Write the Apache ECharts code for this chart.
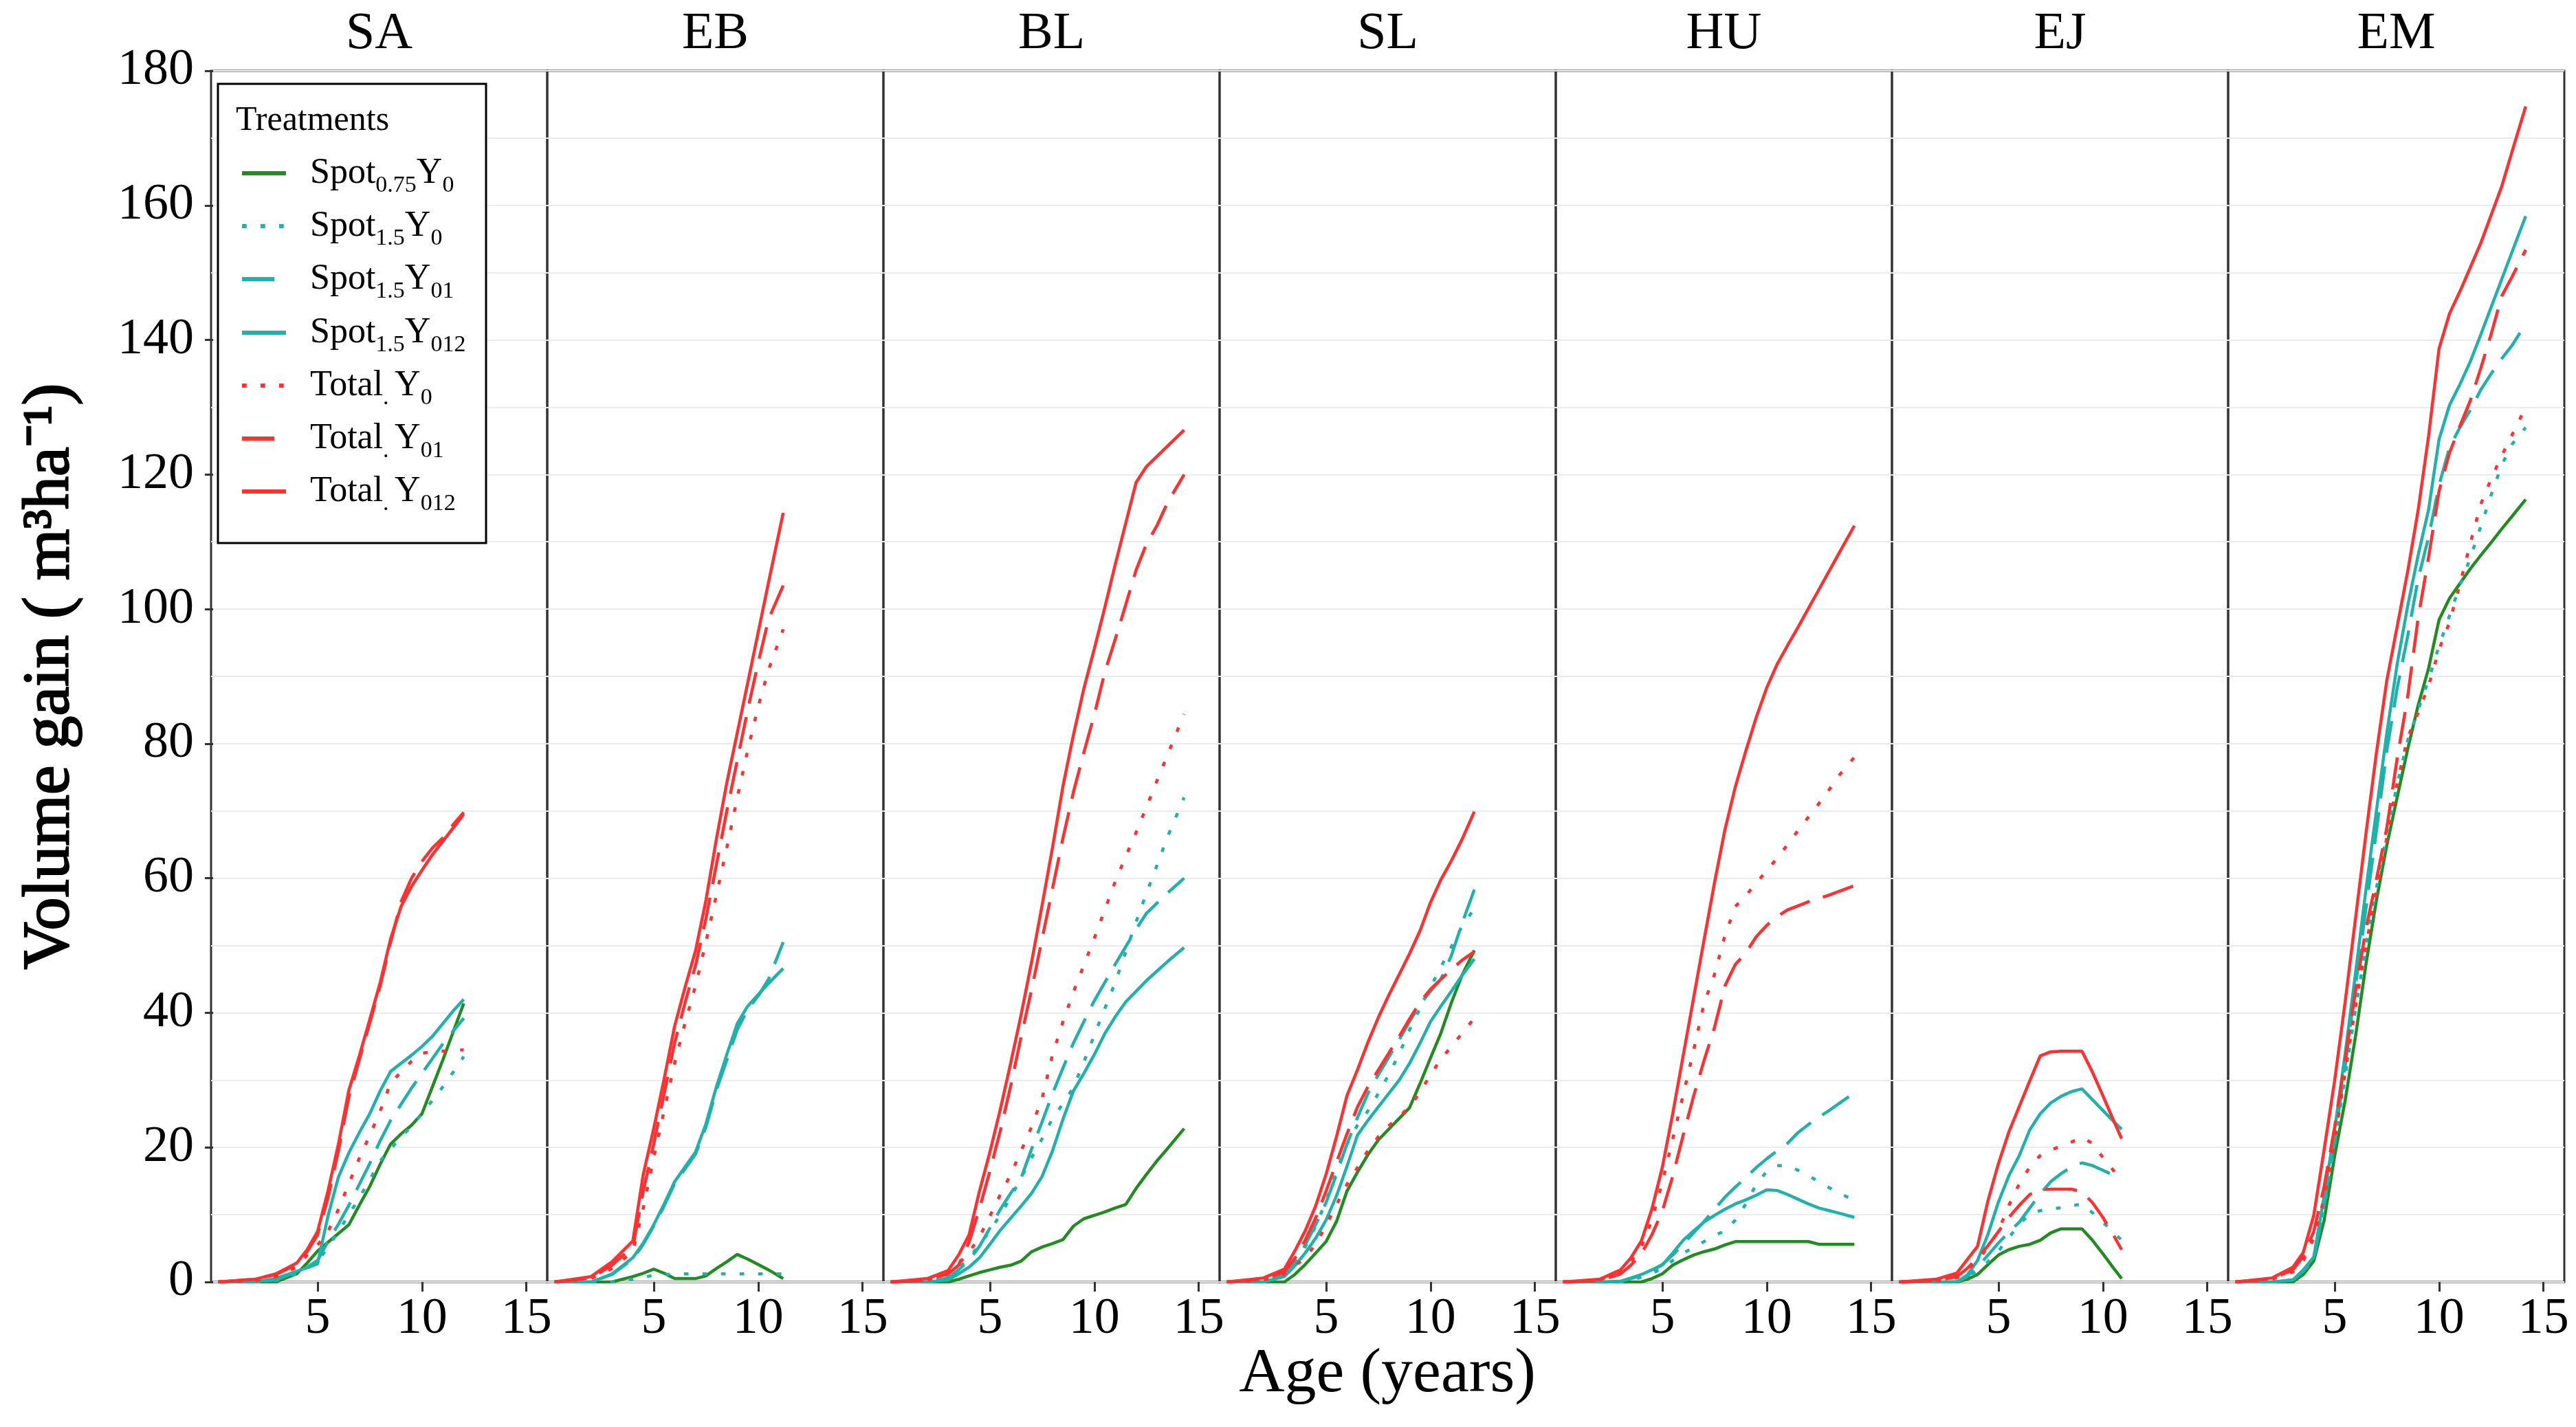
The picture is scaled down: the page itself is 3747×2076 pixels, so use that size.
<!DOCTYPE html>
<html><head><meta charset="utf-8">
<script src="https://cdn.jsdelivr.net/npm/echarts@6/dist/echarts.min.js"></script>
<style>html,body{margin:0;padding:0;background:#fff}#c{width:3747px;height:2076px}</style>
</head><body><div id="c"></div>
<script>
// ---------- categories / ticks ----------
const sites = ['SA', 'EB', 'BL', 'SL', 'HU', 'EJ', 'EM'];
const treatments = ['Spot0.75Y0', 'Spot1.5Y0', 'Spot1.5Y01', 'Spot1.5Y012', 'Total.Y0', 'Total.Y01', 'Total.Y012'];
const xTickValues = [5, 10, 15];
const yTickMin = 0, yTickMax = 180, yTickStep = 20;

// ---------- data (age in years, volume gain m3/ha) ----------
const ageSA = [0.25, 2, 3, 4, 4.5, 5, 5.5, 6, 6.5, 7, 7.5, 8, 8.5, 9, 9.5, 10, 10.5, 11, 11.5, 12];
const SA_S075Y0  = [0, 0, 0, 1.2, 2.8, 4.6, 5.9, 7.2, 8.5, 11.4, 14.2, 17.5, 20.5, 22, 23.3, 25, 29, 33, 37.2, 41.4];
const SA_S15Y0   = [0, 0, 0.2, 1.2, 2, 3, 5.2, 7.5, 10, 12.5, 15.2, 18, 19.8, 21.5, 23.2, 25, 27, 29, 31.2, 33.5];
const SA_S15Y01  = [0, 0, 0.3, 1.5, 2.2, 3.2, 6, 8.6, 11.4, 14.5, 17.6, 21, 24, 26.4, 28.8, 31, 33.2, 35.4, 37.3, 39.2];
const SA_S15Y012 = [0, 0, 0.5, 1.6, 2.1, 2.7, 9.8, 15.6, 19.2, 22.2, 25, 28.4, 31.3, 32.5, 33.7, 35, 36.5, 38.4, 40.3, 42];
const SA_TY0     = [0, 0.2, 0.8, 2.2, 4, 5.5, 7.5, 10.8, 14.6, 18.4, 21.8, 25.4, 29.6, 31.2, 32.8, 34, 34.2, 34.3, 34.4, 34.5];
const SA_TY01    = [0, 0.4, 1.1, 2.6, 4.5, 7, 12.5, 19.5, 27.5, 33, 38.5, 44, 50.5, 56.5, 60, 62.5, 64.5, 66, 68, 69.8];
const SA_TY012   = [0, 0.4, 1.2, 2.8, 4.8, 7.5, 13.5, 20.5, 28.5, 33.6, 39, 44.5, 51, 55.8, 58.8, 61.2, 63.5, 65.5, 67.5, 69.5];

const ageEB = [0.25, 2, 3, 4, 4.5, 5, 5.5, 6, 6.5, 7, 7.5, 8, 8.5, 9, 9.5, 10, 10.5, 11.2];
const EB_S075Y0  = [0, 0, 0, 0.8, 1.3, 1.9, 1.3, 0.5, 0.5, 0.5, 0.9, 2.0, 3.0, 4.1, 3.4, 2.6, 1.8, 0.5];
const EB_S15Y0   = [0, 0, 0, 0.4, 0.7, 1.0, 1.1, 1.2, 1.2, 1.2, 1.2, 1.2, 1.2, 1.2, 1.2, 1.2, 1.2, 1.2];
const EB_S15Y01  = [0, 0, 1.1, 3.4, 5.6, 8.3, 11.3, 14.6, 16.8, 19, 23, 28.5, 33, 37.5, 40.5, 42.5, 45, 50.5];
const EB_S15Y012 = [0, 0, 1.2, 3.6, 5.8, 8.5, 11.6, 14.9, 17.1, 19.3, 23.5, 29, 33.8, 38.4, 41, 42.7, 44.4, 46.6];
const EB_TY0     = [0, 0.5, 2, 4.5, 11, 18.5, 25.5, 32.5, 38.5, 44, 50.5, 57.5, 64.5, 72, 79, 85.5, 91, 97];
const EB_TY01    = [0, 0.6, 2.5, 5.2, 13.5, 20.5, 28, 35.5, 41.5, 47, 54, 62, 70, 77.5, 85, 92, 98.5, 103.5];
const EB_TY012   = [0, 0.8, 3, 6.1, 16, 22.8, 30.2, 38, 43.8, 49.2, 56.7, 65.8, 74.2, 81.6, 89, 96.5, 104, 114.3];

const ageBL = [0.25, 2, 3, 3.5, 4, 4.5, 5, 5.5, 6, 6.5, 7, 7.5, 8, 8.5, 9, 9.5, 10, 10.5, 11, 11.5, 12, 12.5, 13, 13.5, 14.3];
const BL_S075Y0  = [0, 0, 0, 0.4, 0.9, 1.4, 1.8, 2.2, 2.5, 3.1, 4.5, 5.2, 5.7, 6.3, 8.3, 9.4, 9.9, 10.4, 11, 11.5, 13.9, 16, 18, 19.8, 22.8];
const BL_S15Y0   = [0, 0, 0.8, 2, 3.6, 5.5, 7.6, 10, 12.6, 15.5, 18.5, 21.3, 24.3, 26.5, 28.9, 32.7, 36.7, 40.6, 44.5, 49, 53.5, 57.8, 61.9, 66.1, 72];
const BL_S15Y01  = [0, 0, 0.6, 1.8, 3.2, 5.3, 8, 10.8, 13.2, 15.5, 19.8, 23.8, 28, 31.8, 35.5, 38.7, 41.8, 44.5, 47.2, 49.8, 52.4, 54.8, 56.3, 57.8, 60];
const BL_S15Y012 = [0, 0, 0.3, 1.2, 2.2, 3.6, 5.6, 7.7, 9.5, 11.3, 13.2, 15.7, 19.5, 24.2, 28.4, 31, 33.8, 36.9, 39.4, 41.6, 43.2, 44.8, 46.2, 47.6, 49.7];
const BL_TY0     = [0, 0.3, 1.5, 2.7, 4.4, 6.7, 9.8, 13, 16, 19.5, 23.1, 27.3, 33.8, 38.7, 43.1, 47.1, 51.1, 55.3, 59.5, 63.2, 66.8, 70.6, 74.5, 78.3, 84.4];
const BL_TY01    = [0, 0.3, 1.2, 2.5, 5.9, 10.9, 16.5, 22.5, 29.2, 36.5, 43.5, 51, 58.5, 66, 72.8, 78.7, 84.3, 90.6, 95.5, 100.6, 105.8, 109.7, 112.4, 115.8, 120];
const BL_TY012   = [0, 0.5, 1.7, 4, 7, 13.5, 19.3, 25.7, 32.6, 39.8, 47.6, 56, 64.6, 73.7, 81.3, 88.2, 94.1, 100.2, 106.6, 112.7, 118.8, 121.2, 122.7, 124.2, 126.6];

const ageSL = [0.25, 2, 3, 3.5, 4, 4.5, 5, 5.5, 6, 6.5, 7, 7.5, 8, 8.5, 9, 9.5, 10, 10.5, 11, 11.5, 12.1];
const SL_S075Y0  = [0, 0, 0, 1.1, 2.6, 4.3, 6, 9, 13.5, 16.3, 18.9, 21.1, 22.7, 24.3, 25.9, 29.5, 33.3, 37, 41.5, 45.5, 49.3];
const SL_S15Y0   = [0, 0, 0.9, 2.8, 5.2, 8.3, 12, 16.5, 20.5, 23.3, 25.4, 28, 30.8, 33.9, 37.5, 40.7, 43.8, 46.8, 49.8, 52.8, 55.5];
const SL_S15Y01  = [0, 0, 1, 3, 5.5, 8.5, 11.8, 16, 20.5, 24.4, 28, 30.8, 33.4, 36, 38.7, 41.3, 43.2, 45, 48.5, 53.2, 58.3];
const SL_S15Y012 = [0, 0, 0.8, 2.4, 4.3, 6.5, 9.2, 12.8, 17.2, 21.8, 24, 26, 28, 30, 32.5, 35.5, 38.7, 41, 43.2, 45.5, 48];
const SL_TY0     = [0, 0.3, 1.2, 2.4, 3.6, 5.6, 8.4, 11.5, 14.5, 17, 19.5, 21.6, 23.2, 24.6, 26, 28.2, 30.8, 33.1, 35, 36.9, 39.2];
const SL_TY01    = [0, 0.4, 1.5, 3.5, 6.2, 9.5, 13.5, 17.8, 22, 26, 29, 31.5, 34, 36.5, 39.1, 41.6, 43.5, 45, 46.4, 47.8, 49.1];
const SL_TY012   = [0, 0.6, 1.9, 4.6, 7.6, 11.3, 16, 21.6, 27.7, 31.5, 35.6, 39.3, 42.6, 45.7, 48.8, 52.2, 56.4, 59.8, 62.6, 65.7, 69.9];

const ageHU = [0.25, 2, 3, 3.5, 4, 4.5, 5, 5.5, 6, 6.5, 7, 7.5, 8, 8.5, 9, 9.5, 10, 10.5, 11, 11.5, 12, 12.5, 13, 13.5, 14.2];
const HU_S075Y0  = [0, 0, 0, 0, 0, 0.5, 1.2, 2.5, 3.3, 4, 4.5, 4.9, 5.5, 6, 6, 6, 6, 6, 6, 6, 6, 5.6, 5.6, 5.6, 5.6];
const HU_S15Y0   = [0, 0, 0, 0.3, 0.7, 1.3, 2, 3.2, 4.3, 5.1, 6, 6.9, 7.6, 9.2, 11.6, 14.5, 16.4, 17.3, 17.3, 16.6, 15.8, 14.9, 14, 13.2, 12.1];
const HU_S15Y01  = [0, 0, 0.1, 0.5, 1, 1.7, 2.6, 4, 5.6, 7.3, 9, 10.8, 12.6, 14.1, 15.5, 17, 18.3, 19.5, 20.6, 22.2, 23.4, 24.5, 25.5, 26.6, 28.1];
const HU_S15Y012 = [0, 0, 0.1, 0.6, 1.1, 1.8, 2.5, 4.3, 6.2, 7.6, 8.9, 9.9, 10.8, 11.6, 12.2, 12.9, 13.7, 13.6, 13, 12.3, 11.6, 11, 10.6, 10.2, 9.6];
const HU_TY0     = [0, 0.3, 1.5, 3, 5.2, 9.2, 14.8, 21.2, 27.8, 34.4, 41.4, 45.7, 51.5, 55.8, 57.4, 59.3, 61.1, 63, 65, 67.1, 69.1, 71.1, 73.2, 75.4, 78];
const HU_TY01    = [0, 0.2, 1.2, 2.5, 4.2, 7, 10.5, 15.7, 21.8, 27.6, 32.9, 37.8, 44, 47.2, 48.9, 51.3, 53, 54.3, 55.3, 55.9, 56.5, 57, 57.5, 58.1, 58.9];
const HU_TY012   = [0, 0.4, 1.8, 3.6, 6.1, 10.8, 17, 25, 33.6, 42.2, 50.8, 59.3, 67.2, 73.6, 78.9, 83.9, 88.3, 91.8, 94.6, 97.3, 100.1, 102.9, 105.7, 108.5, 112.4];

const ageEJ = [0.25, 2, 3, 3.5, 4, 4.5, 5, 5.5, 6, 6.5, 7, 7.5, 8, 8.5, 9, 9.5, 10, 10.5, 10.9];
const EJ_S075Y0  = [0, 0, 0, 0.4, 1.1, 2.6, 4, 4.8, 5.3, 5.6, 6.2, 7.3, 7.9, 7.9, 7.9, 6.2, 4.2, 2.1, 0.5];
const EJ_S15Y0   = [0, 0, 0, 0.6, 1.6, 3, 4.6, 6.6, 8.6, 10.1, 10.6, 10.9, 11, 11.3, 11.6, 10.3, 8.9, 7.4, 6.2];
const EJ_S15Y01  = [0, 0, 0, 0.8, 2.2, 4, 5.8, 7.4, 8.9, 11, 13.1, 14.9, 16.1, 17.1, 17.7, 17.3, 16.6, 15.9, 15.3];
const EJ_S15Y012 = [0, 0, 0, 1, 3.2, 7.1, 11.9, 15.8, 18.8, 22.6, 25, 26.6, 27.6, 28.3, 28.7, 27.1, 25.5, 23.9, 22.7];
const EJ_TY0     = [0, 0.2, 0.6, 1.8, 3.2, 5.2, 7.6, 11.4, 14.6, 17.1, 18.8, 19.6, 20.2, 20.8, 21.5, 20.6, 18.5, 16.6, 15];
const EJ_TY01    = [0, 0.2, 0.8, 2, 3.6, 5.4, 7.5, 9.6, 11.4, 13, 13.7, 13.8, 13.8, 13.8, 13.4, 11.8, 9.6, 7, 4.8];
const EJ_TY012   = [0, 0.4, 1.3, 3.3, 5.3, 12.1, 17.6, 22.3, 26.1, 29.9, 33.6, 34.2, 34.3, 34.3, 34.3, 31.2, 27.7, 24.1, 21.3];

const ageEM = [0.25, 2, 3, 3.5, 4, 4.5, 5, 5.5, 6, 6.5, 7, 7.5, 8, 8.5, 9, 9.5, 10, 10.5, 11, 11.5, 12, 12.5, 13, 13.5, 14.15];
const EM_S075Y0  = [0, 0, 0, 1.1, 3.1, 9.2, 18.7, 26.9, 36.5, 47.2, 56.7, 64.9, 72.1, 79.2, 85.7, 91.2, 98.4, 101.6, 103.8, 106, 108, 109.9, 111.9, 113.8, 116.3];
const EM_S15Y0   = [0, 0, 0.3, 1.5, 3.4, 11, 20.5, 30.5, 40.5, 50, 58.5, 66.5, 74, 80.5, 85, 89.5, 94.5, 99, 103.5, 107.6, 112.3, 117, 121.4, 124.5, 127];
const EM_S15Y01  = [0, 0, 0.3, 1.6, 3.4, 11.5, 21, 32, 44, 55.5, 67, 79, 88.3, 96, 104.5, 110.7, 118.4, 124, 127, 129.6, 132.6, 135, 137.2, 139.2, 142.4];
const EM_S15Y012 = [0, 0, 0.3, 1.8, 3.7, 12.8, 22.6, 33.8, 45.9, 58.3, 70, 81.6, 91.9, 100.5, 108, 114.8, 125.2, 130.3, 133.4, 136.8, 140.8, 144.9, 149, 153.1, 158.4];
const EM_TY0     = [0, 0.4, 1.5, 3.2, 6.5, 12.5, 21, 31, 41, 50, 58, 66, 74.2, 80.9, 84.6, 88.6, 94, 98, 103.7, 109.8, 115.6, 119.4, 122.8, 125.9, 130];
const EM_TY01    = [0, 0.5, 1.8, 3.8, 7.5, 14.2, 23, 33, 43.2, 52.5, 59.8, 67.5, 77.9, 87, 98.7, 107.7, 117.5, 123.2, 127.2, 131, 135.8, 140.9, 146.5, 149.4, 153.4];
const EM_TY012   = [0, 0.6, 2.2, 4.4, 9.9, 19.7, 29.9, 41.5, 54, 66.6, 78.6, 89.4, 97.5, 105.6, 114.7, 125.7, 138.7, 143.9, 147.2, 150.8, 154.4, 158.6, 162.8, 168, 174.7];

// ---------- assemble ----------
const siteAges = [ageSA, ageEB, ageBL, ageSL, ageHU, ageEJ, ageEM];
const siteVals = [
  [SA_S075Y0, SA_S15Y0, SA_S15Y01, SA_S15Y012, SA_TY0, SA_TY01, SA_TY012],
  [EB_S075Y0, EB_S15Y0, EB_S15Y01, EB_S15Y012, EB_TY0, EB_TY01, EB_TY012],
  [BL_S075Y0, BL_S15Y0, BL_S15Y01, BL_S15Y012, BL_TY0, BL_TY01, BL_TY012],
  [SL_S075Y0, SL_S15Y0, SL_S15Y01, SL_S15Y012, SL_TY0, SL_TY01, SL_TY012],
  [HU_S075Y0, HU_S15Y0, HU_S15Y01, HU_S15Y012, HU_TY0, HU_TY01, HU_TY012],
  [EJ_S075Y0, EJ_S15Y0, EJ_S15Y01, EJ_S15Y012, EJ_TY0, EJ_TY01, EJ_TY012],
  [EM_S075Y0, EM_S15Y0, EM_S15Y01, EM_S15Y012, EM_TY0, EM_TY01, EM_TY012]
];

const GREEN = '#228B22', TEAL = '#20B2AA', RED = '#FF3030';
const DOT = [6.75, 20.25], LONGDASH = [47, 20];
const tStyle = [
  {color: GREEN, type: 'solid'},
  {color: TEAL, type: DOT},
  {color: TEAL, type: LONGDASH},
  {color: TEAL, type: 'solid'},
  {color: RED, type: DOT},
  {color: RED, type: LONGDASH},
  {color: RED, type: 'solid'}
];
const legendLabels = [
  '{g|}{m|Spot}{s|0.75}{m|Y}{s|0}',
  '{g|}{m|Spot}{s|1.5}{m|Y}{s|0}',
  '{g|}{m|Spot}{s|1.5}{m|Y}{s|01}',
  '{g|}{m|Spot}{s|1.5}{m|Y}{s|012}',
  '{g|}{m|Total}{s|. }{m|Y}{s|0}',
  '{g|}{m|Total}{s|. }{m|Y}{s|01}',
  '{g|}{m|Total}{s|. }{m|Y}{s|012}'
];

const FONT = 'Liberation Serif';
const L0 = 307, PW = 489, TOP = 103, PH = 1762;
const AXC = '#333333';

const grids = [], xAxes = [], yAxes = [], series = [], graphics = [], legends = [];
sites.forEach((s, i) => {
  grids.push({left: L0 + PW * i, top: TOP, width: PW, height: PH, show: true,
    borderColor: AXC, borderWidth: 3, backgroundColor: 'transparent', containLabel: false});
  xAxes.push({type: 'value', gridIndex: i, min: -0.1, max: 16,
    axisLine: {show: false},
    axisTick: {show: true, length: 14, customValues: xTickValues, lineStyle: {color: AXC, width: 3}},
    axisLabel: {show: true, customValues: xTickValues, margin: 18, fontFamily: FONT, fontSize: 74, color: '#000'},
    splitLine: {show: false}});
  const yAx = {type: 'value', gridIndex: i, min: yTickMin, max: yTickMax, interval: yTickStep,
    axisLine: {show: false},
    axisTick: {show: i === 0, length: 12, lineStyle: {color: AXC, width: 3}},
    axisLabel: {show: i === 0, margin: 25, fontFamily: FONT, fontSize: 74, color: '#000'},
    splitLine: {show: true, lineStyle: {color: '#ebebeb', width: 2}},
    minorTick: {show: false, splitNumber: 2},
    minorSplitLine: {show: true, lineStyle: {color: '#ebebeb', width: 2}}};
  if (i === 0) {
    yAx.name = 'Volume gain ( m\u00B3ha\u207B\u00B9)';
    yAx.nameLocation = 'middle';
    yAx.nameRotate = 90;
    yAx.nameGap = 185;
    yAx.nameTextStyle = {fontFamily: 'Liberation Serif, serif', fontSize: 96, fontWeight: 'normal',
      color: '#000', textBorderColor: '#000', textBorderWidth: 2.2};
  }
  yAxes.push(yAx);
  const ages = siteAges[i];
  siteVals[i].forEach((vals, j) => {
    series.push({type: 'line', name: treatments[j], xAxisIndex: i, yAxisIndex: i,
      data: ages.map((a, k) => [a, vals[k]]),
      symbol: 'none', showSymbol: false, silent: true, animation: false, z: 2 + j,
      color: tStyle[j].color,
      lineStyle: {color: tStyle[j].color, width: 4.5, type: tStyle[j].type, cap: 'butt'}});
  });
  graphics.push({type: 'text', x: L0 + PW * i + PW / 2, y: 50, z: 10,
    style: {text: s, fontFamily: FONT, fontSize: 76, fill: '#000',
      align: 'center', verticalAlign: 'middle', textAlign: 'center', textVerticalAlign: 'middle'}});
});

const legendCenters = [261, 338, 415, 493, 570, 647, 724];
treatments.forEach((t, j) => {
  legends.push({data: [t], orient: 'vertical', left: 349, top: legendCenters[j] - 35, padding: 0,
    itemWidth: 64, itemHeight: 14, selectedMode: false, z: 20,
    lineStyle: {width: 6},
    itemStyle: {opacity: 0, borderWidth: 0},
    formatter: () => legendLabels[j],
    textStyle: {fontFamily: FONT, color: '#000', fontSize: 52,
      rich: {
        g: {width: 30},
        m: {fontFamily: FONT, fontSize: 52, lineHeight: 70, color: '#000'},
        s: {fontFamily: FONT, fontSize: 34, lineHeight: 34, color: '#000', verticalAlign: 'bottom'}
      }}});
});

graphics.push({type: 'rect', z: 15, shape: {x: 317, y: 122, width: 390, height: 668},
  style: {fill: '#fff', stroke: '#000', lineWidth: 3}});
graphics.push({type: 'text', x: 343, y: 176, z: 21,
  style: {text: 'Treatments', fontFamily: FONT, fontSize: 50, fill: '#000',
    align: 'left', verticalAlign: 'middle', textAlign: 'left', textVerticalAlign: 'middle'}});
graphics.push({type: 'text', x: 2018, y: 2000, z: 10,
  style: {text: 'Age (years)', fontFamily: FONT, fontSize: 92, fill: '#000',
    align: 'center', verticalAlign: 'middle', textAlign: 'center', textVerticalAlign: 'middle'}});

const chart = echarts.init(document.getElementById('c'), null, {renderer: 'canvas'});
chart.setOption({
  animation: false,
  backgroundColor: '#fff',
  grid: grids, xAxis: xAxes, yAxis: yAxes, series: series,
  legend: legends,
  graphic: {elements: graphics}
});
</script></body></html>
